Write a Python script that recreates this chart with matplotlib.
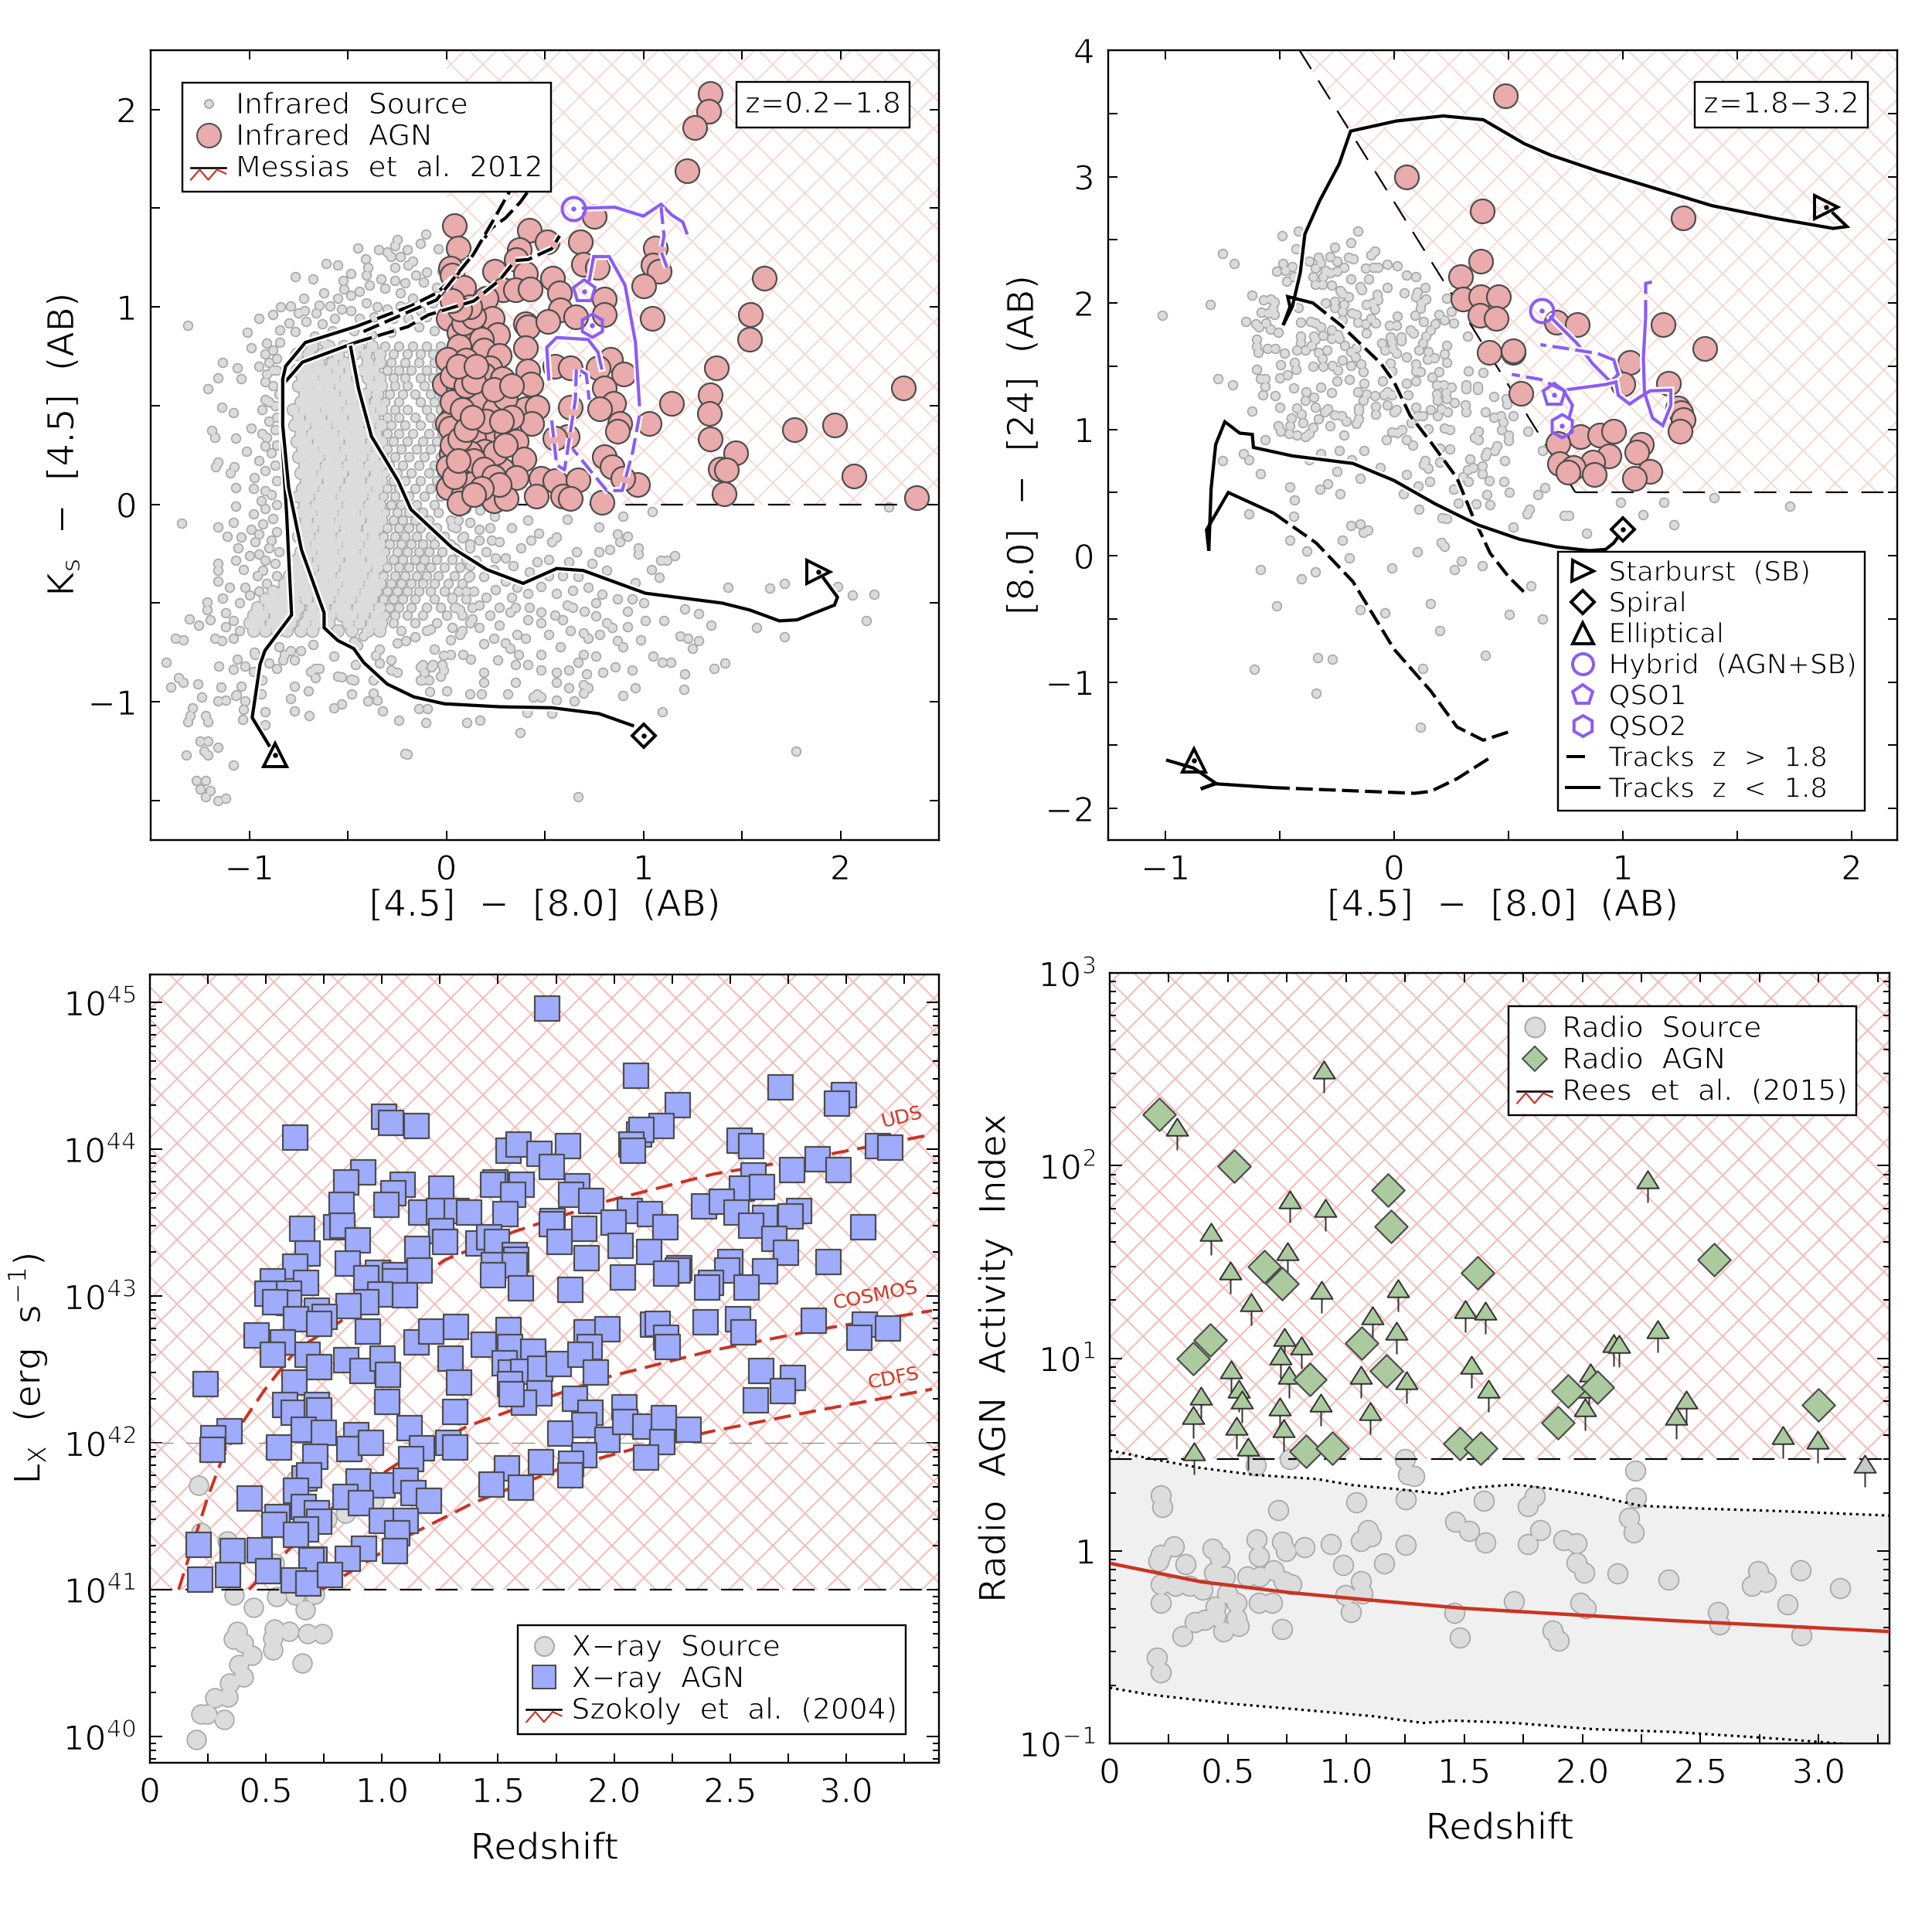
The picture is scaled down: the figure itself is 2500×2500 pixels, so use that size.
import matplotlib
matplotlib.use("Agg")
import numpy as np
import matplotlib.pyplot as plt
from matplotlib.patches import Rectangle, Polygon
from matplotlib.lines import Line2D
from matplotlib.path import Path
from matplotlib.text import Text
from matplotlib.ticker import MultipleLocator, FixedLocator, NullFormatter, FixedFormatter, LogLocator
from matplotlib.legend_handler import HandlerBase
import matplotlib.patheffects as pe

# ---------- panel 1: infrared, z=0.2-1.8 ----------
ir1_agn = [(1.34,2.08),(1.33,1.99),(1.26,1.91),(1.22,1.69),(.75,1.46),(.04,1.41),(.06,1.30),(.42,1.39),(.51,1.33),(.68,1.33),
(.37,1.29),(.355,1.24),(1.06,1.30),(1.05,1.21),(1.08,1.18),(1.00,1.105),(.695,1.215),(.765,1.20),(.02,1.195),(.03,1.16),
(.245,1.18),(.40,1.17),(.54,1.145),(.09,1.10),(.29,1.085),(.35,1.085),(.425,1.09),(.575,1.07),(.80,1.04),(.20,1.045),
(.58,.985),(.80,.96),(1.045,.94),(1.615,1.145),(1.545,.96),(1.54,.835),(1.37,.69),(1.34,.555),(1.335,.46),(1.34,.33),
(1.47,.26),(1.39,.18),(1.42,.175),(1.41,.055),(1.145,.51),(1.03,.41),(.97,.10),(.79,.01),(1.765,.38),(1.97,.40),
(2.07,.145),(2.32,.59),(2.385,.035),(.01,.94),(.19,.915),(.235,.94),(.40,.915),(.415,.90),(.515,.925),(.655,.95),
(.065,.87),(.26,.86),(.18,.835),(.40,.795),(.065,.80),(.19,.78),(.27,.755),(.005,.735),(.10,.73),(.22,.69),
(.415,.675),(.55,.70),(.63,.69),(.835,.735),(.90,.66),(.77,.69),(.19,.655),(-.01,.61),(.06,.585),(.285,.635),
(.43,.61),(.125,.57),(.80,.59),(.85,.51),(.17,.51),(.245,.48),(.40,.485),(.46,.49),(.63,.49),(.78,.485),
(.03,.44),(.005,.41),(.02,.385),(.165,.385),(.435,.41),(.88,.41),(.87,.37),(.615,.345),(.22,.345),(.14,.335),
(.305,.35),(.355,.32),(.55,.335),(.025,.255),(.195,.27),(.395,.23),(.01,.19),(.11,.16),(.16,.135),(.285,.175),
(.355,.135),(.80,.24),(.84,.19),(.48,.13),(.55,.12),(.67,.125),(.895,.13),(.01,.085),(.085,.045),(.065,.005),
(.24,.02),(.305,.03),(.455,.04),(.59,.04),(.63,.03),(.14,.11),(.03,.52),(.08,.48),(.12,.68),(.30,.54),(.25,.26),(.33,.44),(.12,.26),
(.03,.65),(.10,.60),(.14,.62),(.06,.70),(.15,.70),(.03,.30),(.07,.33),(.10,.38),(.04,.14),(.14,.22),(.19,.18),(.24,.14),(.27,.10),
(.18,.08),(.14,.05),(.30,.30),(.20,.42),(.24,.58),(.33,.60),(.09,.92),(.14,.95),(.12,1.0),(.07,.99),(.03,1.03),(.28,.42),(.06,.22),(.13,.44)]

ir1_src_core = [
(.80,[-.68,-.60,-.52,-.45,-.38,-.31,-.24,-.17,-.10,-.03]),
(.76,[-.76,-.70,-.63,-.55,-.47,-.41,-.34,-.27,-.20,-.13,-.07]),
(.72,[-.70,-.65,-.58,-.52,-.40,-.34,-.28,-.21,-.14,-.06,-.01]),
(.68,[-.76,-.71,-.66,-.61,-.55,-.49,-.42,-.37,-.30,-.24,-.18,-.10,-.03]),
(.64,[-.73,-.68,-.62,-.57,-.51,-.40,-.34,-.27,-.21,-.13,-.07]),
(.60,[-.75,-.70,-.65,-.60,-.54,-.49,-.38,-.33,-.26,-.20,-.11,-.04]),
(.56,[-.72,-.67,-.62,-.57,-.51,-.46,-.41,-.35,-.29,-.22,-.16,-.08,-.02]),
(.52,[-.74,-.69,-.64,-.59,-.54,-.48,-.42,-.36,-.31,-.24,-.13,-.06]),
(.48,[-.78,-.72,-.67,-.61,-.56,-.50,-.45,-.39,-.33,-.26,-.20,-.10,-.03]),
(.44,[-.75,-.69,-.64,-.58,-.53,-.47,-.42,-.37,-.30,-.24,-.16,-.08]),
(.40,[-.77,-.72,-.66,-.61,-.55,-.50,-.45,-.39,-.33,-.28,-.21,-.13,-.05]),
(.36,[-.74,-.68,-.63,-.58,-.52,-.47,-.42,-.36,-.30,-.24,-.17,-.09,-.02]),
(.32,[-.76,-.71,-.65,-.60,-.55,-.49,-.44,-.38,-.33,-.27,-.20,-.12,-.05]),
(.28,[-.73,-.68,-.62,-.57,-.51,-.46,-.41,-.35,-.30,-.23,-.15,-.08]),
(.24,[-.75,-.70,-.65,-.59,-.54,-.48,-.43,-.37,-.32,-.26,-.19,-.11,-.03]),
(.20,[-.72,-.67,-.61,-.56,-.50,-.45,-.39,-.34,-.29,-.22,-.14,-.06]),
(.16,[-.74,-.69,-.63,-.58,-.53,-.47,-.42,-.36,-.31,-.25,-.18,-.09,-.02]),
(.12,[-.71,-.66,-.60,-.55,-.49,-.44,-.38,-.33,-.27,-.21,-.13,-.05]),
(.08,[-.73,-.68,-.62,-.57,-.51,-.46,-.41,-.35,-.30,-.24,-.16,-.08]),
(.04,[-.75,-.70,-.64,-.59,-.53,-.48,-.43,-.37,-.32,-.26,-.19,-.11,-.03]),
(.00,[-.72,-.66,-.61,-.56,-.50,-.45,-.39,-.34,-.28,-.23,-.15,-.06]),
(-.04,[-.74,-.69,-.63,-.58,-.52,-.47,-.41,-.36,-.31,-.25,-.19,-.12,-.04]),
(-.08,[-.71,-.65,-.60,-.54,-.49,-.44,-.38,-.33,-.27,-.22,-.16,-.09,.02]),
(-.12,[-.73,-.68,-.62,-.57,-.51,-.46,-.40,-.35,-.30,-.24,-.19,-.13,-.05,.05]),
(-.16,[-.75,-.70,-.64,-.59,-.53,-.48,-.43,-.37,-.32,-.26,-.21,-.15,-.08,-.01,.09]),
(-.20,[-.72,-.66,-.61,-.56,-.50,-.45,-.39,-.34,-.29,-.23,-.18,-.12,-.06,.02,.12]),
(-.24,[-.74,-.69,-.63,-.58,-.52,-.47,-.41,-.36,-.31,-.25,-.20,-.14,-.09,-.02,.06]),
(-.28,[-.76,-.71,-.65,-.60,-.55,-.49,-.44,-.38,-.33,-.27,-.22,-.16,-.11,-.05,.03,.10]),
(-.32,[-.78,-.73,-.68,-.62,-.57,-.51,-.46,-.41,-.35,-.30,-.24,-.19,-.13,-.08,-.01,.07]),
(-.36,[-.80,-.75,-.70,-.64,-.59,-.53,-.48,-.43,-.37,-.32,-.26,-.21,-.15,-.10,-.04,.04,.12]),
(-.40,[-.82,-.77,-.72,-.66,-.61,-.56,-.50,-.45,-.39,-.34,-.28,-.23,-.18,-.12,-.06,.01,.08]),
(-.44,[-.88,-.83,-.78,-.73,-.68,-.63,-.58,-.52,-.47,-.41,-.36,-.30,-.25,-.20,-.14,-.08,-.01,.06,.14]),
(-.48,[-.92,-.87,-.82,-.77,-.71,-.65,-.60,-.54,-.49,-.43,-.38,-.32,-.27,-.22,-.16,-.06,.03,.10]),
(-.52,[-.96,-.90,-.85,-.80,-.75,-.68,-.62,-.56,-.51,-.45,-.40,-.34,-.29,-.24,-.18,-.10,-.03,.05,.13]),
(-.56,[-.98,-.93,-.87,-.82,-.77,-.70,-.65,-.59,-.53,-.48,-.42,-.36,-.31,-.26,-.20,-.12,.00,.08]),
(-.60,[-1.0,-.95,-.89,-.84,-.79,-.72,-.66,-.60,-.50,-.44,-.38,-.33,-.27,-.16,-.05,.12]),
(-.64,[-.98,-.92,-.86,-.81,-.74,-.68,-.55,-.48,-.40,-.34,-.23,-.10,.08]),
]

ir1_src_pts = [
(-.105,1.37),(-.25,1.34),(-.26,1.31),(-.13,1.32),(-.45,1.30),(-.345,1.29),(-.04,1.295),(-.41,1.245),(-.28,1.255),(-.235,1.255),
(-.17,1.23),(-.55,1.21),(-.61,1.22),(-.485,1.17),(-.40,1.20),(-.26,1.20),(-.195,1.21),(-.10,1.175),(-.765,1.155),(-.675,1.14),
(-.525,1.135),(-.405,1.16),(-.26,1.135),(-.155,1.16),(-.115,1.125),(-.39,1.11),(-.31,1.095),(-.235,1.07),(-.485,1.06),(-.725,1.045),
(-.645,1.01),(-.55,1.045),(-.17,1.045),(-.84,1.0),(-.79,1.005),(-.59,1.005),(-.485,.98),(-.405,1.02),(-.30,.99),(-.235,1.005),
(-.13,.98),(-.95,.94),(-.80,.92),(-.71,.925),(-.63,.915),(-.565,.94),(-.365,.95),(-.27,.94),(-.195,.94),(-1.31,.905),
(-.845,.885),(-1.01,.87),(-.765,.875),(-.67,.85),(-.62,.82),(-.91,.815),(-.845,.82),(-.47,.88),(-.38,.86),(-.28,.87),(-.14,.90),(-.06,.88),
(-.99,.795),(-.92,.76),(-1.135,.72),(-1.06,.69),(-1.16,.64),(-1.04,.635),(-.95,.70),(-1.21,.585),(-.91,.66),(-.88,.68),
(-.92,.53),(-1.14,.49),(-1.08,.465),(-.935,.48),(-.99,.385),(-1.19,.375),(-1.07,.335),(-1.175,.34),(-.935,.36),(-1.015,.27),
(-.92,.295),(-1.16,.215),(-1.075,.19),(-1.095,.16),(-1.17,.19),(-1.07,.085),(-.975,.135),(-.92,.07),(-1.07,-.01),(-.92,-.02),
(-1.345,-.095),(-1.16,-.115),(-1.08,-.09),(-.99,-.125),(-1.11,-.16),(-1.04,-.165),(-.95,-.15),(-1.055,-.22),(-.90,-.22),(-1.16,-.30),
(-1.07,-.285),(-.92,-.285),(-1.16,-.335),(-.93,-.335),(-1.16,-.39),(-.91,-.40),(-1.215,-.495),(-1.135,-.475),(-1.215,-.535),(-1.305,-.58),
(-1.255,-.61),(-1.20,-.585),(-1.12,-.55),(-1.08,-.59),(-1.175,-.68),(-1.375,-.68),(-1.335,-.685),(-1.14,-.69),(-1.08,-.68),(-.975,-.75),
(-1.42,-.80),(-1.155,-.82),(-1.08,-.835),(-1.36,-.88),(-1.40,-.925),(-1.335,-.90),(-1.26,-.91),(-1.145,-.925),(-1.24,-.975),(-1.16,-.995),
(-1.12,-.99),(-1.07,-.97),(-1.31,-1.10),(-1.30,-1.07),(-1.21,-1.10),(-1.22,-1.07),(-1.29,-1.03),(-1.16,-1.23),(-1.25,-1.20),(-1.21,-1.20),
(-1.32,-1.27),(-1.21,-1.27),(-1.23,-1.25),(-1.27,-1.40),(-1.22,-1.40),(-1.25,-1.44),(-1.20,-1.45),(-1.22,-1.48),(-1.16,-1.50),(-1.12,-1.49),
(-1.08,-1.32),(-.21,-1.26),(.67,-1.48),(1.775,-1.25),(.375,-1.155),
(-.675,-.71),(-.74,-.74),(-.85,-.72),(-.82,-.76),(-.79,-.74),(-.77,-.79),(-.83,-.79),(-.57,-.77),(-.97,-.76),(-.90,-.805),
(-.86,-.83),(-1.06,-.785),(-1.02,-.82),(-.98,-.845),(-.69,-.845),(-.665,-.83),(-.645,-.83),(-.665,-.88),(-.55,-.87),(-.53,-.875),
(-.485,-.885),(-.47,-.89),(-.46,-.81),(-.37,-.89),(-.34,-.735),(-.36,-.765),(-.34,-.805),(-.28,-.79),(-.28,-.84),(-.25,-.85),
(-.42,-.665),(-.47,-.695),(-.45,-.715),(-.25,-.70),(-.205,-.69),(-.16,-.67),(-.06,-.735),(-.015,-.765),(.02,-.685),(-.08,-.63),
(-.12,-.81),(-.07,-.81),(-.11,-.85),(-.125,-.89),(-.015,-.84),(-.03,-.87),(-.77,-.92),(-.70,-.945),(-.79,-.985),(-.77,-1.045),
(-.695,-1.07),(-.48,-.96),(-.37,-.955),(-.40,-.995),(-.35,-.99),(-.57,-1.03),(-.53,-1.01),(-.325,-1.045),(-.24,-1.095),(-.105,-1.105),
(-.14,-1.035),(-.095,-1.035),(-.085,-.95),(0,-.945),(-.2,-1.265),(-.92,-1.05),(-.92,-1.115),(-1.035,-1.09),(-1.03,-1.04),(-1.02,-.995),
(-1.065,-.965),(-1.04,-.92),(-.935,-.89),(-.94,-.96),
(.245,-.06),(.165,-.125),(.415,-.08),(.615,-.075),(.775,-.115),(.895,-.06),(1.045,-.035),(2.245,-.015),(.27,-.19),(.23,-.18),
(.165,-.18),(.43,-.18),(.47,-.145),(.535,-.19),(.56,-.165),(.87,-.15),(.92,-.16),(.88,-.19),(.66,-.24),(.775,-.24),
(.83,-.23),(.975,-.22),(.975,-.25),(1.16,-.26),(1.09,-.285),(1.12,-.285),(1.04,-.33),(1.08,-.37),(.815,-.335),(.67,-.365),
(.59,-.36),(.30,-.27),(.15,-.285),(.045,-.22),(.19,-.365),(.30,-.39),(.96,-.395),(.48,-.415),(.56,-.45),(.64,-.435),
(.415,-.45),(1.43,-.42),(1.64,-.425),(1.715,-.40),(1.985,-.415),(2.06,-.46),(2.17,-.455),(2.13,-.59),(1.575,-.625),(1.715,-.67),
(.945,-.48),(.87,-.48),(.79,-.455),(.76,-.50),(.64,-.52),(.615,-.51),(.48,-.545),(.35,-.52),(.165,-.51),(.03,-.47),
(.07,-.535),(.325,-.545),(1.21,-.53),(1.28,-.555),(1.105,-.59),(1.01,-.59),(1.345,-.61),(.76,-.565),(.815,-.60),(.84,-.625),
(.59,-.585),(.63,-.64),(.415,-.585),(.48,-.60),(.27,-.61),(.165,-.625),(.03,-.625),(1.185,-.665),(1.225,-.68),(1.28,-.69),
(1.25,-.73),(1.05,-.77),(1.095,-.80),(1.14,-.80),(1.415,-.805),(1.36,-.83),(1.21,-.86),(1.205,-.935),(.895,-.72),(.87,-.69),
(.985,-.685),(.945,-.84),(.855,-.825),(.795,-.85),(.76,-.77),(.695,-.65),(.72,-.68),(.695,-.76),(.67,-.80),(.71,-.86),
(.695,-.915),(.695,-.955),(.65,-.995),(.895,-.97),(.56,-.85),(.56,-.90),(.415,-.81),(.365,-.76),(.48,-.76),(.325,-.73),
(.40,-.68),(.30,-.70),(.19,-.705),(.125,-.785),(.19,-.85),(.19,-.90),(.02,-.76),(-.075,-.825),(-.13,-.825),(-.09,-.89),
(-.13,-.89),(.085,-.76),(-.02,-.81),(.35,-.81),(.44,-.975),(.48,-.975),(.56,-.99),(.35,-.90),(.41,-1.055),(.535,-1.06),
(1.095,-1.05),(.105,-1.105),(.17,-1.095),(.12,-.96),(.18,-.96),(.31,-.96),(.46,-.96),(.62,-.93),(.72,-.93),(.96,-.93),
(.10,-.02),(.17,-.03),(.06,-.08),(.12,-.09),(.20,-.24),(.25,-.27),(.34,-.31),(.12,-.31),(.24,-.33),(.25,-.43),(.20,-.47),(.33,-.47),
(.10,-.44),(.13,-.58),(.22,-.56),(.07,-.66),(.24,-.68),
]
# further sources around the rim of the cloud
ir1_src_rim = [(-.88,.78),(-.86,.74),(-.90,.72),(-.86,.68),(-.92,.62),(-.88,.60),(-.85,.56),(-.90,.52),(-.87,.50),(-.86,.44),
(-.90,.42),(-.87,.38),(-.91,.34),(-.86,.30),(-.89,.26),(-.95,.22),(-.87,.20),(-.92,.17),(-.86,.12),(-.98,.08),(-.89,.05),(-.94,.02),
(-.86,.0),(-.98,-.05),(-.88,-.07),(-.93,-.10),(-.86,-.14),(-.97,-.19),(-.89,-.18),(-.85,-.24),(-1.0,-.26),(-.95,-.25),(-.87,-.30),
(-1.03,-.33),(-.96,-.36),(-.86,-.36),(-1.1,-.42),(-1.02,-.42),(-.95,-.44),(-1.05,-.50),(-1.0,-.46),(-1.12,-.62),(-1.05,-.64),
(-.72,.98),(-.66,.97),(-.53,.99),(-.44,.94),(-.35,1.0),(-.19,1.0),(-.10,.95),(-.07,1.02),(-.05,1.10),(-.62,1.07),(-.44,1.08),(-.33,1.14),
(-.21,1.12),(-.58,.88),(-.75,.97),(-.88,.96),(-.02,.97),(-.02,1.18),(-.30,1.28),(-.20,1.29),(-.52,1.09),
(.03,-.11),(.08,-.17),(.12,-.22),(.22,-.12),(.33,-.12),(.38,-.22),(.46,-.29),(.52,-.28),(.62,-.29),(.74,-.30),(.42,-.34),(.52,-.36),
(.72,-.42),(.36,-.42),(.11,-.37),(.04,-.52),(.27,-.52),(.42,-.52),(.55,-.56),(.70,-.54),(.92,-.54),(1.0,-.50),(.36,-.66),(.52,-.66),
(.58,-.72),(.26,-.79),(.48,-.84),(.62,-.84),(.78,-.66),(.92,-.62)]

ir1_ell_solid = [(-.90,-1.22),(-.985,-1.08),(-.945,-.81),(-.92,-.74),(-.785,-.56),(-.80,-.26),(-.81,-.05),(-.83,.27),(-.835,.60),(-.73,.72),(-.46,.82)]
ir1_ell_dash = [(-.46,.82),(-.195,.90),(-.09,.96),(.14,1.03),(.27,1.135),(.35,1.235),(.415,1.24),(.535,1.295),(.575,1.36)]
ir1_spi_solid = [(.945,-1.12),(.775,-1.06),(.535,-1.03),(.27,-1.025),(-.01,-1.01),(-.165,-.975),(-.30,-.91),(-.42,-.80),(-.47,-.73),(-.55,-.69),(-.62,-.625),(-.62,-.55),(-.735,-.23),(-.80,.085),(-.83,.40),(-.83,.635),(-.815,.70),(-.715,.82),(-.46,.90)]
ir1_spi_dash = [(-.46,.90),(-.18,1.005),(-.05,1.07),(.085,1.19),(.23,1.40),(.30,1.45),(.375,1.53),(.44,1.62)]
ir1_sb_solid = [(1.915,-.375),(1.985,-.47),(1.97,-.51),(1.78,-.585),(1.69,-.59),(1.54,-.535),(1.40,-.50),(1.01,-.45),(.695,-.335),(.56,-.325),(.39,-.40),(.205,-.33),(.03,-.22),(-.18,-.025),(-.245,.12),(-.38,.345),(-.445,.585),(-.485,.795)]
ir1_sb_dash = [(-.42,.875),(-.18,.98),(-.05,1.035),(.03,1.135),(.14,1.27),(.245,1.45),(.335,1.61)]
ir1_hyb_solid = [(.695,1.50),(.855,1.505),(1.0,1.46),(1.09,1.52),(1.145,1.465),(1.2,1.43),(1.22,1.375)]
ir1_hyb_dash = [(1.09,1.505),(1.105,1.36),(1.09,1.28),(1.12,1.20)]
ir1_q1_solid = [(.726,1.137),(.748,1.255),(.827,1.255),(.907,1.11),(.96,.82),(.98,.505)]
ir1_q1_dash = [(.98,.45),(.947,.27),(.893,.07),(.814,.07),(.642,.28)]
ir1_q2_solid = [(.788,.69),(.77,.77),(.72,.835),(.56,.845),(.51,.795),(.52,.635)]
ir1_q2_dash = [(.535,.425),(.56,.20),(.60,.175),(.655,.53),(.66,.69),(.71,.66),(.725,.53)]
ir1_markers = {'sb':(1.89,-.34),'spiral':(1.0,-1.17),'ell':(-.87,-1.27),'hyb':(.647,1.497),'q1':(.70,1.08),'q2':(.74,.907)}

# ---------- panel 2: infrared, z=1.8-3.2 ----------
ir2_agn = [(.486,3.64),(.055,3.0),(.385,2.73),(1.265,2.67),(.38,2.33),(.29,2.21),(.30,2.03),(.38,2.05),(.455,2.05),(.375,1.90),
(.445,1.88),(.71,1.85),(.80,1.83),(1.175,1.83),(1.36,1.64),(.415,1.61),(.52,1.61),(.52,1.62),(1.03,1.53),(1.0,1.36),
(1.20,1.365),(.555,1.285),(1.24,1.17),(1.255,1.13),(1.265,1.075),(1.25,.985),(.815,.94),(.90,.955),(.96,.985),(.715,.885),
(1.08,.88),(1.06,.82),(.94,.79),(.87,.74),(.725,.73),(.785,.70),(.76,.66),(.875,.645),(1.12,.67),(1.05,.615)]

ir2_src = [(-.49,2.53),(-.42,2.57),(-.16,2.57),(-.19,2.48),(-.43,2.43),(-.26,2.44),(-.75,2.39),(-.70,2.31),(-.085,2.41),(-.10,2.38),
(-.33,2.36),(-.32,2.32),(-.37,2.33),(-.28,2.365),(-.25,2.33),(-.20,2.36),(-.18,2.35),(-.485,2.31),(-.445,2.29),(-.475,2.255),
(-.515,2.25),(-.345,2.275),(-.30,2.26),(-.28,2.24),(-.25,2.25),(-.22,2.28),(-.125,2.275),(-.07,2.28),(-.09,2.28),(-.03,2.305),
(.015,2.295),(.055,2.22),(.095,2.21),(-.355,2.21),(-.31,2.21),(-.44,2.21),(-.19,2.19),(-.11,2.19),(-.47,2.17),(-.345,2.15),
(-.315,2.15),(-.275,2.14),(-.15,2.13),(-.14,2.105),(-.03,2.125),(.135,2.12),(.10,2.085),(.045,2.08),(-.075,2.07),(-.235,2.10),
(-.225,2.075),(-.20,2.05),(-.62,2.06),(-.57,2.025),(-.54,2.03),(-.525,2.005),(.095,2.05),(.14,2.03),(.23,2.035),(-.07,2.025),
(-.26,2.01),(-.30,2.0),(-.095,2.0),(-.12,1.985),(-.22,1.99),(-.805,1.985),(.12,2.0),(.115,1.96),(.25,1.93),(-.42,1.965),
(-.53,1.955),(-.085,1.95),(-.26,1.965),(-.225,1.93),(-.58,1.925),(-.55,1.92),(-.525,1.91),(-.185,1.92),(-.165,1.91),(.015,1.895),
(.09,1.905),(.195,1.91),(-.10,1.88),(.22,1.865),(-.65,1.855),(-.225,1.865),(.13,1.855),(-.41,1.85),(-.365,1.855),(-.345,1.84),
(-.16,1.85),(-.08,1.84),(.18,1.835),(.26,1.84),(-.605,1.835),(-.56,1.84),(-.125,1.835),(-.59,1.81),(.01,1.825),(-.02,1.82),
(-.32,1.81),(-.54,1.79),(-.505,1.77),(.16,1.785),(.07,1.785),(.085,1.76),(-.12,1.76),(-.275,1.785),(-.41,1.74),(-.31,1.745),
(-.245,1.75),(.14,1.74),(.32,1.735),(-.60,1.71),(-.35,1.735),(-.275,1.72),(-.24,1.72),(-.015,1.73),(.03,1.73),(-.41,1.69),
(-.345,1.71),(-.01,1.69),(.03,1.70),(-.60,1.655),(-.36,1.665),(-.215,1.665),(-.055,1.68),(.125,1.68),(.23,1.665),(-.165,1.645),
(-.555,1.64),(-.52,1.64),(-.425,1.63),(-.39,1.625),(-.295,1.625),(-.19,1.615),(-.04,1.63),(-.005,1.64),(.11,1.63),(-.595,1.61),
(.15,1.615),(-.33,1.61),(.01,1.60),(.22,1.595),(-.48,1.60),(-.17,1.57),(-.315,1.56),(.055,1.57),(.145,1.555),(.175,1.565),
(-.225,1.545),(-.435,1.53),(.23,1.53),(-.495,1.51),(-.015,1.525),(.095,1.52),(-.355,1.50),(-.31,1.50),(-.27,1.505),(-.19,1.505),
(-.145,1.515),(-.60,1.475),(-.43,1.475),(-.245,1.47),(-.01,1.465),(-.135,1.455),(.325,1.465),(.39,1.45),(.095,1.465),(.115,1.455),
(.195,1.455),(-.465,1.43),(-.50,1.41),(-.77,1.40),(-.585,1.40),(-.565,1.40),(-.195,1.395),(.165,1.415),(-.25,1.38),(-.05,1.38),
(.055,1.365),(.095,1.38),(-.13,1.365),(-.705,1.355),(-.565,1.34),(-.44,1.33),(-.32,1.335),(.185,1.35),(.215,1.355),(.25,1.335),
(.315,1.35),(.315,1.32),(.365,1.34),(.365,1.315),(-.385,1.30),(-.275,1.29),(-.16,1.30),(-.03,1.30),(-.575,1.275),(-.52,1.265),
(-.12,1.28),(-.085,1.265),(-.045,1.27),(-.01,1.27),(.06,1.27),(.185,1.28),(.225,1.29),(-.35,1.255),(-.39,1.23),(-.135,1.23),
(.435,1.26),(.23,1.24),(.19,1.23),(.49,1.24),(.495,1.20),(.265,1.21),(-.03,1.195),(-.08,1.18),(.31,1.19),(-.50,1.175),
(-.425,1.17),(-.345,1.175),(-.155,1.17),(-.29,1.165),(.095,1.175),(-.62,1.145),(.16,1.155),(.205,1.165),(.01,1.155),(-.305,1.14),
(-.155,1.145),(.235,1.14),(.315,1.135),(.40,1.135),(-.08,1.12),(0,1.135),(-.405,1.12),(-.26,1.115),(-.23,1.105),(.19,1.105),
(.435,1.095),(.465,1.105),(.52,1.105),(-.45,1.09),(-.33,1.08),(-.155,1.085),(.10,1.105),(.125,1.105),(.475,1.06),(-.21,1.065),
(-.40,1.05),(.075,1.05),(-.165,1.045),(-.455,1.03),(-.505,1.03),(-.28,1.025),(-.355,1.015),(.15,1.005),(.22,1.01),(.245,.995),
(.035,1.0),(.47,.995),(.37,.985),(-.01,.98),(.015,.975),(-.495,.985),(.585,.985),(-.46,.965),(-.425,.955),(-.39,.945),
(-.37,.965),(-.22,.955),(.50,.955),(.35,.935),(.37,.915),(-.035,.92),(.055,.92),(.08,.875),(.50,.91),(-.565,.915),
(.45,.87),(.44,.83),(.245,.845),(.20,.85),(-.24,.835),(-.13,.83),(.65,.83),(.405,.82),(.40,.79),(-.66,.81),
(-.32,.81),(-.635,.76),(-.75,.75),(-.37,.76),(-.185,.76),(.33,.765),(.485,.75),(.135,.75),(.13,.72),(.15,.69),
(.20,.74),(.385,.71),(.345,.70),(.32,.68),(-.06,.695),(-.25,.665),(-.585,.65),(.055,.64),(.385,.65),(-.15,.615),
(.30,.625),(.415,.595),(.48,.59),(.155,.585),(.325,.585),(-.29,.57),(-.325,.525),(-.455,.545),(.105,.55),(.26,.525),
(.66,.54),(.63,.485),(.505,.505),(-.235,.49),(.04,.49),(.405,.485),(-.435,.44),(.36,.41),(.28,.415),(.42,.405),
(.11,.37),(.59,.37),(.58,.33),(-.635,.33),(-.44,.31),(.745,.32),(.765,.32),(.21,.30),(.23,.295),(-.15,.25),
(-.19,.24),(-.115,.205),(-.135,.185),(.52,.225),(-.455,.12),(-.225,.12),(.205,.105),(.22,.075),(.10,.03),(-.38,.035),
(-.195,-.02),(-.585,-.11),(.295,-.045),(.265,-.11),(.385,-.08),(-.01,-.10),(-.345,-.13),(-.405,-.18),(.60,-.235),(-.515,-.40),
(.16,-.38),(-.15,-.425),(-.04,-.455),(.505,-.465),(.65,-.50),(.20,-.595),(.40,-.79),(-.335,-.805),(-.27,-.82),(-.61,-.90),
(.125,-.89),(-.34,-1.09),(.115,-1.36),(1.73,.39),(1.40,.46),(.99,.42),(1.087,.325),(1.18,.425),(1.225,.245),(.84,.175),(-1.015,1.905)]

ir2_sb_solid = [(1.92,2.71),(1.98,2.605),(1.92,2.59),(1.825,2.62),(1.665,2.67),(1.39,2.77),(1.19,2.88),(.89,3.045),(.685,3.17),(.57,3.26),(.39,3.45),(.215,3.48),(.01,3.44),(-.19,3.36),(-.24,3.10),(-.325,2.81),(-.39,2.545),(-.41,2.24),(-.445,1.97),(-.485,1.825),(-.455,1.97),(-.465,2.05),(-.355,2.0)]
ir2_sb_dash = [(-.355,2.0),(-.23,1.82),(-.057,1.52),(0,1.375),(.07,1.11),(.16,.90),(.275,.615),(.34,.33),(.42,.02),(.50,-.165),(.575,-.30)]
ir2_spi_solid = [(.98,.15),(.96,.10),(.925,.05),(.855,.04),(.71,.07),(.55,.13),(.365,.245),(.18,.41),(0,.595),(-.18,.73),(-.445,.79),(-.615,.857),(-.62,.96),(-.675,.97),(-.74,1.06),(-.78,.88),(-.80,.53),(-.81,.04),(-.82,.205),(-.725,.50),(-.525,.335)]
ir2_spi_dash = [(-.525,.335),(-.34,.10),(-.18,-.205),(0,-.74),(.16,-1.07),(.275,-1.355),(.39,-1.46),(.50,-1.395)]
ir2_ell_solid = [(-.99,-1.62),(-.877,-1.68),(-.78,-1.80),(-.845,-1.845),(-.78,-1.805),(-.53,-1.835)]
ir2_ell_dash = [(-.53,-1.835),(.09,-1.88),(.16,-1.865),(.275,-1.765),(.427,-1.59)]
ir2_hyb_solid = [(.685,1.887),(.80,1.68),(.868,1.52),(.947,1.375),(.98,1.435),(.96,1.55)]
ir2_hyb_dash = [(.96,1.55),(.89,1.60),(.753,1.64),(.64,1.67)]
ir2_q1_solid = [(.74,1.31),(.925,1.355),(.97,1.375),(.98,1.27),(1.03,1.20),(1.07,1.25),(1.12,1.305),(1.21,1.31),(1.21,1.19),(1.175,1.03),(1.13,1.09),(1.095,1.29),(1.09,1.56),(1.10,1.89)]
ir2_q1_dash = [(1.10,1.89),(1.10,2.01),(1.10,2.155),(1.137,2.17)]
ir2_q2_solid = [(.765,1.087),(.78,1.19),(.74,1.31)]
ir2_q2_dash = [(.74,1.31),(.64,1.395),(.515,1.435)]
ir2_markers = {'sb':(1.89,2.76),'spiral':(1.0,.21),'ell':(-.875,-1.62),'hyb':(.644,1.937),'q1':(.70,1.27),'q2':(.733,1.026)}

# ---------- panel 3: X-ray ----------
xr_agn = [(1.71,44.96),(2.094,44.50),(2.717,44.42),(2.99,44.37),(2.96,44.31),(2.274,44.30),(2.205,44.16),(.625,44.08),(1.01,44.22),(1.04,44.18),
(1.148,44.16),(2.108,44.10),(2.117,44.13),(2.076,44.03),(2.08,43.99),(1.544,43.99),(1.589,44.03),(1.68,43.97),(1.80,44.02),(1.73,43.88),
(2.54,44.06),(2.59,44.02),(3.137,44.02),(3.19,44.01),(2.876,43.93),(2.766,43.86),(2.966,43.86),(2.60,43.82),(.92,43.84),(.847,43.775),
(1.09,43.76),(1.05,43.70),(.827,43.62),(1.018,43.62),(1.254,43.73),(1.49,43.775),(1.479,43.76),(1.602,43.76),(1.566,43.69),(1.843,43.75),
(1.816,43.69),(1.903,43.65),(2.55,43.73),(2.636,43.74),(2.389,43.61),(2.463,43.64),(2.528,43.57),(1.169,43.57),(1.245,43.58),(1.321,43.58),
(1.375,43.57),(1.533,43.56),(2.067,43.58),(2.155,43.56),(2.22,43.47),(1.998,43.50),(1.735,43.51),(1.73,43.49),(1.872,43.46),(2.798,43.58),
(2.762,43.54),(2.652,43.53),(2.591,43.48),(2.692,43.39),(3.074,43.47),(.656,43.46),(.804,43.47),(.83,43.48),(.897,43.38),(1.254,43.44),
(1.416,43.36),(1.461,43.40),(1.494,43.37),(1.272,43.37),(1.766,43.37),(2.029,43.34),(1.153,43.32),(.679,43.29),(.625,43.20),(.854,43.22),
(1.573,43.28),(1.578,43.245),(1.883,43.26),(2.15,43.30),(2.50,43.23),(2.488,43.175),(2.74,43.295),(2.924,43.23),(1.483,43.21),(1.573,43.21),
(2.281,43.19),(2.276,43.175),(2.225,43.15),(2.652,43.17),(1.479,43.14),(1.60,43.05),(1.81,43.04),(2.038,43.125),(2.418,43.09),(2.402,43.06),
(2.571,43.06),(.982,43.16),(.933,43.12),(1.056,43.14),(1.056,43.10),(1.162,43.175),(1.10,43.005),(.993,43.01),(.933,42.96),(.856,42.93),
(.528,43.10),(.506,43.015),(.674,43.09),(.60,43.015),(.60,42.955),(.54,42.96),(.72,42.90),(.753,42.86),(.629,42.84),(.73,42.81),
(.458,42.73),(.573,42.685),(.528,42.60),(.679,42.60),(.73,42.515),(.847,42.565),(.939,42.76),(.917,42.49),(1.002,42.575),(1.025,42.465),
(1.148,42.685),(1.213,42.76),(1.319,42.79),(1.294,42.575),(1.333,42.41),(.622,42.41),(.24,42.40),(.584,42.26),(.62,42.205),(.719,42.26),
(.73,42.22),(1.022,42.28),(1.315,42.21),(.344,42.08),(.274,42.03),(.27,41.95),(.663,42.09),(.748,42.07),(.555,41.97),(.888,42.05),
(.858,41.96),(.953,42.0),(1.119,42.10),(1.171,41.965),(1.285,42.0),(1.317,41.97),(1.126,41.89),(.712,41.905),(.667,41.76),(.685,41.78),
(.629,41.675),(.663,41.56),(.431,41.62),(.899,41.735),(1.002,41.71),(1.101,41.74),(1.135,41.655),(1.202,41.605),(.843,41.63),(.91,41.59),
(.719,41.52),(.73,41.46),(.548,41.495),(.535,41.44),(.674,41.41),(.629,41.375),(1.0,41.47),(1.101,41.47),(1.067,41.385),(.209,41.305),
(.357,41.26),(.474,41.27),(.924,41.28),(1.056,41.265),(.854,41.21),(.708,41.205),(.697,41.2),(.51,41.125),(.337,41.10),(.216,41.07),
(.62,41.065),(.681,41.04),(.775,41.10),(1.438,42.67),(1.544,42.77),(1.551,42.65),(1.652,42.62),(1.528,42.54),(1.555,42.48),(1.607,42.485),
(1.681,42.505),(1.76,42.535),(1.883,42.75),(1.971,42.775),(1.894,42.655),(1.854,42.6),(1.921,42.48),(2.169,42.805),(2.187,42.81),(2.225,42.715),
(2.231,42.65),(2.393,42.82),(2.535,42.84),(2.557,42.75),(2.861,42.83),(3.079,42.805),(3.18,42.78),(3.058,42.715),(2.634,42.49),(2.771,42.44),
(2.728,42.35),(2.611,42.29),(1.551,42.40),(1.679,42.335),(1.611,42.275),(1.831,42.30),(1.557,42.33),(1.897,42.205),(1.87,42.12),(1.769,42.065),
(1.971,42.02),(2.045,42.24),(2.049,42.14),(2.135,42.11),(2.213,42.17),(2.321,42.09),(2.207,42.005),(2.139,41.90),(1.872,41.915),(1.816,41.86),
(1.685,41.87),(1.811,41.78),(1.539,41.825),(1.472,41.715),(1.60,41.695)]
xr_src = [(.209,41.71),(.22,41.39),(.333,41.33),(.535,41.18),(.364,40.96),(.445,40.88),(.546,40.95),(.625,40.96),(.708,40.97),(.67,40.86),
(.375,40.715),(.36,40.66),(.404,40.635),(.438,40.55),(.535,40.73),(.528,40.67),(.528,40.59),(.60,40.715),(.679,40.70),(.744,40.70),
(.656,40.50),(.382,40.49),(.404,40.405),(.342,40.36),(.337,40.27),(.281,40.26),(.22,40.15),(.247,40.15),(.319,40.115),(.20,39.98),
(.843,41.52),(.764,41.48),(.966,41.605),(.629,41.745)]
uds_line = [(.124,41),(.247,41.62),(.315,41.905),(.404,42.15),(.494,42.36),(.629,42.63),(.854,42.86),(1.079,43.03),(1.27,43.245),(1.573,43.44),(1.978,43.65),(2.427,43.83),(2.876,43.95),(3.37,44.10)]
cosmos_line = [(.427,41),(.629,41.32),(.809,41.59),(1.079,41.87),(1.371,42.115),(1.753,42.33),(1.978,42.45),(2.427,42.63),(2.876,42.77),(3.37,42.90)]
cdfs_line = [(.742,41),(.944,41.2),(1.124,41.375),(1.393,41.59),(1.753,41.815),(2.09,41.96),(2.427,42.08),(2.876,42.22),(3.37,42.365)]

# ---------- panel 4: radio ----------
rd_agn = [(.208,2.266),(.527,1.997),(1.177,1.874),(1.19,1.686),(2.558,1.511),(.653,1.477),(.728,1.388),(1.558,1.444),(.425,1.095),(.354,.996),
(1.066,1.079),(1.17,.934),(.847,.891),(1.938,.83),(2.064,.851),(3.0,.757),(1.896,.666),(.83,.518),(.942,.534),(1.482,.556),(1.569,.532)]
rd_lim = [(.907,2.489),(.283,2.193),(2.277,1.919),(.761,1.815),(.914,1.772),(.429,1.648),(.752,1.546),(.511,1.447),(.896,1.348),(1.219,1.356),
(.597,1.281),(1.504,1.246),(1.591,1.240),(1.113,1.213),(2.319,1.141),(1.215,1.133),(.739,1.101),(.812,1.058),(2.133,1.071),(2.155,1.066),
(.723,1.007),(.513,.932),(1.531,.958),(.759,.905),(1.064,.905),(1.257,.878),(2.033,.918),(.546,.832),(2.029,.832),(1.604,.832),
(.387,.797),(.558,.779),(.892,.762),(2.44,.776),(2.011,.736),(.721,.741),(.352,.698),(1.102,.717),(2.396,.695),(.535,.642),
(.735,.628),(2.85,.593),(.586,.534),(2.996,.569),(.358,.51)]
rd_lim_src = [(3.195,.443)]
rd_src = [(.619,.443),(.761,.475),(1.248,.478),(1.263,.395),(1.288,.389),(2.223,.416),(2.228,.274),(2.197,.172),(2.219,.094),(.217,.287),
(.221,.228),(.712,.212),(1.042,.25),(1.254,.268),(1.582,.258),(1.799,.285),(1.77,.231),(1.462,.153),(1.522,.105),(1.588,.043),
(1.821,.107),(1.77,.035),(1.92,.054),(1.976,.04),(.622,.059),(.631,-.03),(.73,.046),(.746,-.003),(.825,.021),(.934,.035),
(1.062,.051),(1.091,.107),(1.106,.075),(1.254,.03),(.27,.024),(.215,-.021),(.206,-.054),(.321,-.07),(.434,.011),(.465,-.035),
(.442,-.115),(.487,-.134),(.582,-.134),(.635,-.134),(.692,-.102),(.737,-.156),(.768,-.174),(.989,-.075),(1.162,-.067),(1.062,-.156),
(1.976,-.062),(2.007,-.115),(2.15,-.118),(2.365,-.15),(2.743,-.107),(2.925,-.102),(2.777,-.161),(2.717,-.183),(3.091,-.193),(.215,-.174),
(.277,-.183),(.336,-.183),(.394,-.201),(.498,-.223),(.215,-.268),(.631,-.268),(.686,-.268),(.538,-.268),(.449,-.29),(.449,-.338),
(.538,-.349),(.546,-.392),(.361,-.37),(.403,-.357),(.48,-.419),(.308,-.443),(.73,-.405),(.996,-.231),(1.069,-.223),(1.02,-.317),
(1.71,-.263),(1.46,-.322),(1.48,-.451),(1.991,-.271),(2.015,-.298),(1.874,-.416),(1.9,-.467),(2.573,-.319),(2.582,-.381),(2.869,-.277),
(2.927,-.438),(.201,-.553),(.215,-.631)]
rees_line = [(.01,-.067),(.387,-.161),(.763,-.217),(1.051,-.25),(1.493,-.298),(1.936,-.33),(2.378,-.362),(2.82,-.389),(3.30,-.419)]
band_top = [(0,.521),(.188,.475),(.387,.43),(.608,.395),(.874,.373),(1.029,.341),(1.228,.319),(1.405,.295),(1.538,.328),(1.715,.344),(1.869,.322),(2.046,.287),(2.246,.234),(2.489,.22),(2.82,.207),(3.30,.183)]
band_bot = [(0,-.711),(.166,-.746),(.498,-.792),(.83,-.827),(1.117,-.859),(1.327,-.894),(1.449,-.881),(1.715,-.894),(2.046,-.926),(2.378,-.94),(2.82,-.975),(3.086,-1.0),(3.30,-1.03)]

# ---------- styling ----------
DPI = 250
px = 72.0 / DPI
plt.rcParams.update({
    'font.family': ['DejaVu Sans'], 'mathtext.default': 'regular', 'hatch.linewidth': 2.0 * px,
    'axes.linewidth': 2.4 * px, 'xtick.direction': 'in', 'ytick.direction': 'in',
    'xtick.top': True, 'ytick.right': True, 'axes.unicode_minus': True,
})
TICK = 12.6
AXL = 13.6
LEG = 10.8
GREY, GREY_E = '#dcdcdc', '#a8a8a8'
DARK = '#4d4d4d'
RED_F, BLUE_F, GREEN_F = '#e9abab', '#9fabfb', '#abcb9f'
PURPLE = '#8c5cf5'
HATCH_L, HATCH_D = '#f6d9d3', '#f3bdb9'
TRACKRED = '#cc3322'

fig = plt.figure(figsize=(10, 10), dpi=DPI)
W = 2500.0
def panel(l, t, r, b):
    return fig.add_axes([l / W, 1 - b / W, (r - l) / W, (b - t) / W])

def xy(pts):
    a = np.array(pts, dtype=float)
    return a[:, 0], a[:, 1]

def s_of(d):
    return (d * px) ** 2

def track(ax, pts, color='black', dashed=False, lw=4.2):
    x, y = xy(pts)
    ax.plot(x, y, color=color, lw=lw * px, ls=(0, (5.2, 1.9)) if dashed else '-', zorder=6,
            solid_joinstyle='miter', dash_capstyle='butt',
            path_effects=[pe.withStroke(linewidth=(lw + 5) * px, foreground='white')])

def sed_marker(ax, pos, m, color, size=30):
    ax.plot([pos[0]], [pos[1]], m, mfc='none', mec=color, mew=4 * px, ms=size * px, zorder=7)
    ax.plot([pos[0]], [pos[1]], '.', color=color, ms=6 * px, zorder=7)

def all_markers(ax, mk):
    sed_marker(ax, mk['sb'], '>', 'black'); sed_marker(ax, mk['spiral'], 'D', 'black', 21); sed_marker(ax, mk['ell'], '^', 'black')
    sed_marker(ax, mk['hyb'], 'o', PURPLE); sed_marker(ax, mk['q1'], 'p', PURPLE); sed_marker(ax, mk['q2'], 'h', PURPLE)

def style_ticks(ax, major, minor):
    ax.tick_params(which='both', labelsize=TICK, pad=5, width=2.0 * px)
    ax.tick_params(which='major', length=major * px)
    ax.tick_params(which='minor', length=minor * px)

def label_box(ax, txt):
    ax.text(.853, .931, txt, transform=ax.transAxes, ha='center', va='center', fontsize=LEG, zorder=12,
            bbox=dict(fc='white', ec='black', lw=2.4 * px, boxstyle='square,pad=0.3'))

class HatchHandle(HandlerBase):
    def create_artists(self, legend, orig, xd, yd, w, h, fontsize, trans):
        x0, x1 = -xd + .0 * w, -xd + 1.0 * w
        y0, y1 = -yd - .15 * h, -yd + .45 * h
        xm = np.linspace(x0, x1, 5)
        a = Line2D([x0, x1], [y1, y1], color='black', lw=2.6 * px, transform=trans)
        b = Line2D([xm[0], xm[1], xm[2], xm[3], xm[4]], [y0, y1 - .1 * h, y0, y1 - .1 * h, y0 + .3 * h],
                   color=TRACKRED, lw=2.2 * px, transform=trans)
        return [a, b]

def add_legend(ax, handles, labels, anchor, loc, size=LEG, spacing=.1):
    leg = ax.legend(handles, labels, loc=loc, bbox_to_anchor=anchor, borderaxespad=0, fontsize=size,
                    fancybox=False, framealpha=1, edgecolor='black', labelspacing=spacing, borderpad=.3,
                    handletextpad=.35, handlelength=1.2, numpoints=1, handler_map={Rectangle: HatchHandle()})
    leg.get_frame().set_linewidth(2.4 * px)
    leg.set_zorder(20)
    return leg

def gray_pts(ax, x, y, size, edge=3.5):
    # all rims first, then all fills, so overlapping sources merge into one patch
    ax.scatter(x, y, c=GREY_E, linewidths=0, s=s_of(size + edge), zorder=2)
    ax.scatter(x, y, c=GREY, linewidths=0, s=s_of(size), zorder=2.1)

agn_circle = dict(c=RED_F, edgecolors=DARK, linewidths=2.2 * px, s=s_of(31), zorder=4)

# ---------- panel 1 ----------
ax1 = panel(195, 65, 1215, 1087)
ax1.set_xlim(-1.5, 2.5); ax1.set_ylim(-1.7, 2.3)
ax1.add_patch(Rectangle((0, 0), 2.5, 2.3, fc='none', ec=HATCH_L, lw=0, hatch='xx', zorder=1))
ax1.plot([0, 2.5], [0, 0], color='black', lw=2.2 * px, ls=(0, (13, 8)), zorder=3)
cx, cy = [], []
for yy, xs in ir1_src_core:
    cx += xs; cy += [yy] * len(xs)
cx, cy = np.array(cx), np.array(cy)
sx, sy = xy(ir1_src_pts + ir1_src_rim)
inner = cx < -.32
ox, oy = np.r_[cx[~inner], sx], np.r_[cy[~inner], sy]
ax1.scatter(cx[inner], cy[inner], c=GREY_E, linewidths=0, s=s_of(17.5), zorder=2)
ax1.scatter(ox, oy, c=GREY_E, linewidths=0, s=s_of(13.5), zorder=2)
ax1.scatter(ox, oy, c=GREY, linewidths=0, s=s_of(10), zorder=2.1)
ax1.scatter(cx[inner], cy[inner], c=GREY, linewidths=0, s=s_of(14.5), zorder=2.1)
ax1.scatter(*xy(ir1_agn), **agn_circle)
for p, d in [(ir1_ell_solid, 0), (ir1_ell_dash, 1), (ir1_spi_solid, 0), (ir1_spi_dash, 1), (ir1_sb_solid, 0), (ir1_sb_dash, 1)]:
    track(ax1, p, 'black', bool(d))
for p, d in [(ir1_hyb_solid, 0), (ir1_hyb_dash, 1), (ir1_q1_solid, 0), (ir1_q1_dash, 1), (ir1_q2_solid, 0), (ir1_q2_dash, 1)]:
    track(ax1, p, PURPLE, bool(d), lw=4.2)
all_markers(ax1, ir1_markers)
ax1.xaxis.set_major_locator(FixedLocator([-1, 0, 1, 2])); ax1.xaxis.set_minor_locator(MultipleLocator(.5))
ax1.yaxis.set_major_locator(FixedLocator([-1, 0, 1, 2])); ax1.yaxis.set_minor_locator(MultipleLocator(.5))
style_ticks(ax1, 12, 12)
ax1.set_xlabel('[4.5]  \u2212  [8.0]  (AB)', fontsize=AXL); ax1.xaxis.set_label_coords(.5, -.062)
ax1.set_ylabel('K$_s$  \u2212  [4.5]  (AB)', fontsize=AXL); ax1.yaxis.set_label_coords(-.088, .5)
label_box(ax1, 'z=0.2\u22121.8')
add_legend(ax1, [Line2D([], [], ls='', marker='o', mfc=GREY, mec=GREY_E, mew=2 * px, ms=11 * px),
                 Line2D([], [], ls='', marker='o', mfc=RED_F, mec=DARK, mew=2 * px, ms=31 * px),
                 Rectangle((0, 0), 1, 1)],
           ['Infrared  Source', 'Infrared  AGN', 'Messias  et  al.  2012'], (.04, .959), 'upper left')

# ---------- panel 2 ----------
ax2 = panel(1434, 65, 2455, 1087)
ax2.set_xlim(-1.25, 2.2); ax2.set_ylim(-2.25, 4)
cut_slope, cut_int, cut_floor = -2.9, 2.8, .5
x_top = (4 - cut_int) / cut_slope; x_bot = (cut_floor - cut_int) / cut_slope
ax2.add_patch(Polygon([(x_top, 4), (2.2, 4), (2.2, cut_floor), (x_bot, cut_floor)], closed=True, fc='none', ec=HATCH_L, lw=0, hatch='xx', zorder=1))
ax2.plot([x_top, x_bot], [4, cut_floor], color='black', lw=2.2 * px, ls=(0, (13, 8)), zorder=3)
ax2.plot([x_bot, 2.2], [cut_floor, cut_floor], color='black', lw=2.2 * px, ls=(0, (13, 8)), zorder=3)
gx, gy = xy(ir2_src)
gray_pts(ax2, gx, gy, 10)
ax2.scatter(*xy(ir2_agn), **agn_circle)
for p, d in [(ir2_sb_solid, 0), (ir2_sb_dash, 1), (ir2_spi_solid, 0), (ir2_spi_dash, 1), (ir2_ell_solid, 0), (ir2_ell_dash, 1)]:
    track(ax2, p, 'black', bool(d))
for p, d in [(ir2_hyb_solid, 0), (ir2_hyb_dash, 1), (ir2_q1_solid, 0), (ir2_q1_dash, 1), (ir2_q2_solid, 0), (ir2_q2_dash, 1)]:
    track(ax2, p, PURPLE, bool(d), lw=4.2)
all_markers(ax2, ir2_markers)
ax2.xaxis.set_major_locator(FixedLocator([-1, 0, 1, 2])); ax2.xaxis.set_minor_locator(MultipleLocator(.5))
ax2.yaxis.set_major_locator(FixedLocator([-2, -1, 0, 1, 2, 3, 4])); ax2.yaxis.set_minor_locator(MultipleLocator(.5))
style_ticks(ax2, 12, 12)
ax2.set_xlabel('[4.5]  \u2212  [8.0]  (AB)', fontsize=AXL); ax2.xaxis.set_label_coords(.5, -.062)
ax2.set_ylabel('[8.0]  \u2212  [24]  (AB)', fontsize=AXL); ax2.yaxis.set_label_coords(-.085, .5)
label_box(ax2, 'z=1.8\u22123.2')
def mk_h(m, c, s=27):
    return Line2D([], [], ls='', marker=m, mfc='none', mec=c, mew=4 * px, ms=s * px)
add_legend(ax2, [mk_h('>', 'black'), mk_h('D', 'black', 21), mk_h('^', 'black'), mk_h('o', PURPLE), mk_h('p', PURPLE), mk_h('h', PURPLE),
                 Line2D([], [], color='black', lw=4 * px, ls=(0, (6, 100))), Line2D([], [], color='black', lw=4 * px)],
           ['Starburst  (SB)', 'Spiral', 'Elliptical', 'Hybrid  (AGN+SB)', 'QSO1', 'QSO2', 'Tracks  z  >  1.8', 'Tracks  z  <  1.8'],
           (.959, .365), 'upper right', size=10.2, spacing=.17)

# ---------- panel 3 ----------
ax3 = panel(194, 1261, 1215, 2281)
ax3.set_yscale('log'); ax3.set_xlim(0, 3.4); ax3.set_ylim(10 ** 39.82, 10 ** 45.19)
ax3.add_patch(Rectangle((0, 1e41), 3.4, 10 ** 45.19 - 1e41, fc='none', ec=HATCH_D, lw=0, hatch='xx', zorder=1))
ax3.plot([0, 3.4], [1e41, 1e41], color='black', lw=2.2 * px, ls=(0, (13, 8)), zorder=3)
ax3.plot([0, 3.4], [1e42, 1e42], color='#888888', lw=1.2 * px, ls=(0, (25, 14)), zorder=3)
gx, gy = xy(xr_src)
gray_pts(ax3, gx, 10 ** gy, 23)
for line in (uds_line, cosmos_line, cdfs_line):
    lx, ly = xy(line)
    ax3.plot(lx, 10 ** ly, color=TRACKRED, lw=4 * px, ls=(0, (5.5, 2.8)), zorder=3)
ax_, ay_ = xy(xr_agn)
ax3.scatter(ax_, 10 ** ay_, marker='s', c=BLUE_F, edgecolors=DARK, linewidths=2.2 * px, s=s_of(32), zorder=4)
red_labels = []
for name, tx, ty, rot in [('UDS', 3.24, 44.22, 14), ('COSMOS', 3.126, 43.0, 11), ('CDFS', 3.206, 42.44, 11)]:
    red_labels.append(ax3.text(tx, 10 ** ty, name, color=TRACKRED, fontsize=7.3, rotation=rot, ha='center', va='center', zorder=5))
ax3.xaxis.set_major_locator(FixedLocator([0, .5, 1, 1.5, 2, 2.5, 3]))
ax3.xaxis.set_major_formatter(FixedFormatter(['0', '0.5', '1.0', '1.5', '2.0', '2.5', '3.0']))
ax3.xaxis.set_minor_locator(MultipleLocator(.25))
ax3.yaxis.set_major_locator(FixedLocator([1e40, 1e41, 1e42, 1e43, 1e44, 1e45]))
ax3.yaxis.set_major_formatter(FixedFormatter(['10$^{40}$', '10$^{41}$', '10$^{42}$', '10$^{43}$', '10$^{44}$', '10$^{45}$']))
ax3.yaxis.set_minor_locator(LogLocator(base=10, subs=np.arange(2, 10) * 1.0, numticks=12)); ax3.yaxis.set_minor_formatter(NullFormatter())
style_ticks(ax3, 16, 8)
ax3.tick_params(axis='x', which='both', length=12 * px)
ax3.set_xlabel('Redshift', fontsize=AXL); ax3.xaxis.set_label_coords(.5, -.088)
ax3.set_ylabel('L$_X$  (erg  s$^{-1}$)', fontsize=AXL); ax3.yaxis.set_label_coords(-.126, .5)
add_legend(ax3, [Line2D([], [], ls='', marker='o', mfc=GREY, mec=GREY_E, mew=2 * px, ms=25 * px),
                 Line2D([], [], ls='', marker='s', mfc=BLUE_F, mec=DARK, mew=2 * px, ms=31 * px),
                 Rectangle((0, 0), 1, 1)],
           ['X\u2212ray  Source', 'X\u2212ray  AGN', 'Szokoly  et  al.  (2004)'], (.958, .175), 'upper right')

# ---------- panel 4 ----------
ax4 = panel(1436, 1259, 2445, 2256)
ax4.set_yscale('log'); ax4.set_xlim(0, 3.3); ax4.set_ylim(.1, 1000)
thr = 3.0
ax4.add_patch(Rectangle((0, thr), 3.3, 1000 - thr, fc='none', ec=HATCH_D, lw=0, hatch='xx', zorder=1))
tx_, ty_ = xy(band_top); bx_, by_ = xy(band_bot)
ax4.fill(np.r_[tx_, bx_[::-1]], np.r_[np.minimum(10 ** ty_, thr), 10 ** by_[::-1]], color='#f0f0f0', lw=0, zorder=1)
ax4.plot(tx_, 10 ** ty_, color='black', lw=3.2 * px, ls=(0, (1, 1.6)), zorder=3)
ax4.plot(bx_, 10 ** by_, color='black', lw=3.2 * px, ls=(0, (1, 1.6)), zorder=3)
ax4.plot([0, 3.3], [thr, thr], color='black', lw=2.2 * px, ls=(0, (13, 8)), zorder=3)
gx, gy = xy(rd_src)
gray_pts(ax4, gx, 10 ** gy, 24)
rx, ry = xy(rees_line)
ax4.plot(rx, 10 ** ry, color=TRACKRED, lw=4.5 * px, zorder=4)
lim_verts = [(-.5, -.33), (0, .47), (.5, -.33), (-.5, -.33), (0, -.33), (0, -1.0)]
lim_codes = [Path.MOVETO, Path.LINETO, Path.LINETO, Path.CLOSEPOLY, Path.MOVETO, Path.LINETO]
lim_marker = Path(lim_verts, lim_codes)
lx, ly = xy(rd_lim)
ax4.scatter(lx, 10 ** ly, marker=lim_marker, c=GREEN_F, edgecolors='#333333', linewidths=2 * px, s=s_of(56), zorder=5)
lx, ly = xy(rd_lim_src)
ax4.scatter(lx, 10 ** ly, marker=lim_marker, c='#c8c8c8', edgecolors='#333333', linewidths=2 * px, s=s_of(56), zorder=5)
dx, dy = xy(rd_agn)
ax4.scatter(dx, 10 ** dy, marker='D', c=GREEN_F, edgecolors=DARK, linewidths=2.2 * px, s=s_of(30), zorder=5)
ax4.xaxis.set_major_locator(FixedLocator([0, .5, 1, 1.5, 2, 2.5, 3]))
ax4.xaxis.set_major_formatter(FixedFormatter(['0', '0.5', '1.0', '1.5', '2.0', '2.5', '3.0']))
ax4.xaxis.set_minor_locator(MultipleLocator(.25))
ax4.yaxis.set_major_locator(FixedLocator([.1, 1, 10, 100, 1000]))
ax4.yaxis.set_major_formatter(FixedFormatter(['10$^{-1}$', '1', '10$^{1}$', '10$^{2}$', '10$^{3}$']))
ax4.yaxis.set_minor_locator(LogLocator(base=10, subs=np.arange(2, 10) * 1.0, numticks=12)); ax4.yaxis.set_minor_formatter(NullFormatter())
style_ticks(ax4, 16, 8)
ax4.tick_params(axis='x', which='both', length=12 * px)
ax4.set_xlabel('Redshift', fontsize=AXL); ax4.xaxis.set_label_coords(.5, -.089)
ax4.set_ylabel('Radio  AGN  Activity  Index', fontsize=AXL); ax4.yaxis.set_label_coords(-.124, .5)
add_legend(ax4, [Line2D([], [], ls='', marker='o', mfc=GREY, mec=GREY_E, mew=2 * px, ms=26 * px),
                 Line2D([], [], ls='', marker='D', mfc=GREEN_F, mec=DARK, mew=2 * px, ms=22 * px),
                 Rectangle((0, 0), 1, 1)],
           ['Radio  Source', 'Radio  AGN', 'Rees  et  al.  (2015)'], (.957, .957), 'upper right')

# thin the letter strokes toward the reference's monoline lettering
fig.canvas.draw()
for t in fig.findobj(Text):
    if t not in red_labels and t.get_text():
        t.set_path_effects([pe.Stroke(linewidth=1.2 * px, foreground='white')])

fig.savefig('out.png', dpi=DPI)
